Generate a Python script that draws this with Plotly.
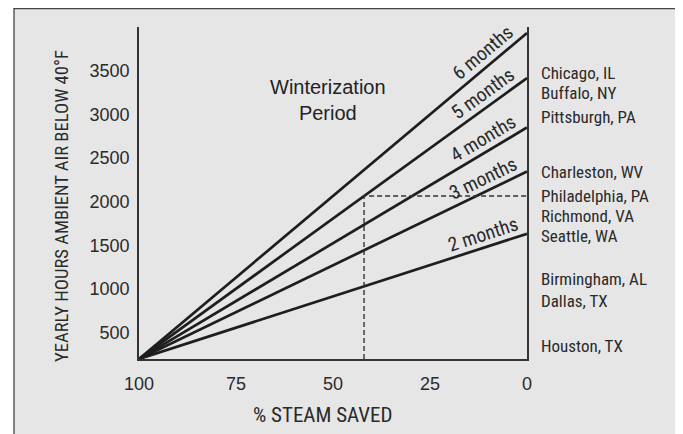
import math
import plotly.graph_objects as go

# ---------------- data ----------------
months = ["2 months", "3 months", "4 months", "5 months", "6 months"]
start_saved = 100          # % steam saved at origin
start_hours = 200          # yearly hours at origin
end_saved = 0
end_hours = [1633, 2345, 2850, 3416, 3932]   # hours at 0 % saved

example_saved = [42, 42, 0]
example_hours = [200, 2065, 2065]

cities = ["Chicago, IL", "Buffalo, NY", "Pittsburgh, PA", "Charleston, WV",
          "Philadelphia, PA", "Richmond, VA", "Seattle, WA", "Birmingham, AL",
          "Dallas, TX", "Houston, TX"]
city_hours = [3473, 3244, 2968, 2340, 2069, 1840, 1605, 1120, 867, 354]

x_ticks = [100, 75, 50, 25, 0]
y_ticks = [500, 1000, 1500, 2000, 2500, 3000, 3500]
x_range = [100, 0]
y_range = [200, 4000]

# ---------------- layout constants ----------------
W, H = 683, 434
OFF = 8                      # page body margin
ML, MT = 131, 19
PW, PH = 388, 332
MR, MB = W - ML - PW, H - MT - PH

def pxx(page_x):
    return (page_x - OFF - ML) / PW

def pxy(page_y):
    return (MT + PH - (page_y - OFF)) / PH

INK = "#1e1e1e"
TXT = "#2a2a2a"
COND = "Roboto Condensed, DejaVu Sans Condensed, sans-serif"
REG = "Liberation Sans, Arial, sans-serif"

fig = go.Figure()

for m, eh in zip(months, end_hours):
    fig.add_trace(go.Scatter(x=[start_saved, end_saved], y=[start_hours, eh],
                             mode="lines", line=dict(color=INK, width=2.7),
                             hoverinfo="skip", showlegend=False))

fig.add_trace(go.Scatter(x=example_saved, y=example_hours, mode="lines",
                         line=dict(color="#333", width=1.4, dash="5px,3px"),
                         hoverinfo="skip", showlegend=False))

# month labels along lines (label centre at ~11.3 % saved, offset above the line)
label_x = 11.3
perp = 13
px_per_x = PW / abs(x_range[1] - x_range[0])
px_per_y = PH / (y_range[1] - y_range[0])
for m, eh in zip(months, end_hours):
    slope = (eh - start_hours) / (end_saved - start_saved)
    ang = math.atan(((eh - start_hours) * px_per_y) / (abs(end_saved - start_saved) * px_per_x))
    bx = label_x - perp * math.sin(ang) / px_per_x
    ly = start_hours + slope * (bx - start_saved)
    fig.add_annotation(x=bx, y=ly, xref="x", yref="y", text=m,
                       xanchor="center", yanchor="middle",
                       textangle=-math.degrees(ang), showarrow=False,
                       xshift=-perp * math.sin(ang), yshift=perp * math.cos(ang),
                       font=dict(family=COND, size=19.5, color=TXT))

# city labels
for c, h in zip(cities, city_hours):
    fig.add_annotation(x=pxx(539), y=h, xref="paper", yref="y", text=c,
                       xanchor="left", yanchor="middle", showarrow=False,
                       font=dict(family=COND, size=17, color=TXT))

fig.add_annotation(x=pxx(328), y=pxy(100.5), xref="paper", yref="paper",
                   xanchor="center", yanchor="middle",
                   text="Winterization<br>Period", showarrow=False,
                   align="center", font=dict(family=REG, size=20, color="#222"))

fig.add_annotation(x=pxx(322), y=pxy(415), xref="paper", yref="paper",
                   xanchor="center", yanchor="middle",
                   text="% STEAM SAVED", showarrow=False,
                   font=dict(family=COND, size=21, color=TXT))
fig.add_annotation(x=pxx(62), y=pxy(206), xref="paper", yref="paper",
                   xanchor="center", yanchor="middle",
                   text="YEARLY HOURS AMBIENT AIR BELOW 40°F", textangle=-90,
                   showarrow=False, font=dict(family=COND, size=18.6, color=TXT))

# background panel with border
fig.add_shape(type="rect", xref="paper", yref="paper",
              x0=pxx(14), x1=pxx(677), y0=pxy(450), y1=pxy(8.5),
              fillcolor="#e6e6e6", line=dict(color="#444", width=1.3), layer="below")

fig.update_layout(
    width=W, height=H,
    margin=dict(l=ML, r=MR, t=MT, b=MB, pad=0),
    paper_bgcolor="white", plot_bgcolor="rgba(0,0,0,0)",
    showlegend=False,
    xaxis=dict(range=x_range, tickvals=x_ticks, ticktext=[str(v) for v in x_ticks],
               showgrid=False, zeroline=False, showline=True, linecolor="#333",
               linewidth=1.6, ticks="", ticklabelstandoff=8,
               tickfont=dict(family=REG, size=18, color=TXT)),
    yaxis=dict(range=y_range, tickvals=y_ticks, ticktext=[str(v) for v in y_ticks],
               showgrid=False, zeroline=False, showline=True, mirror=True,
               linecolor="#333", linewidth=1.6, ticks="", ticklabelstandoff=4,
               tickfont=dict(family=REG, size=18, color=TXT)),
)

fig.write_html("out.html")
